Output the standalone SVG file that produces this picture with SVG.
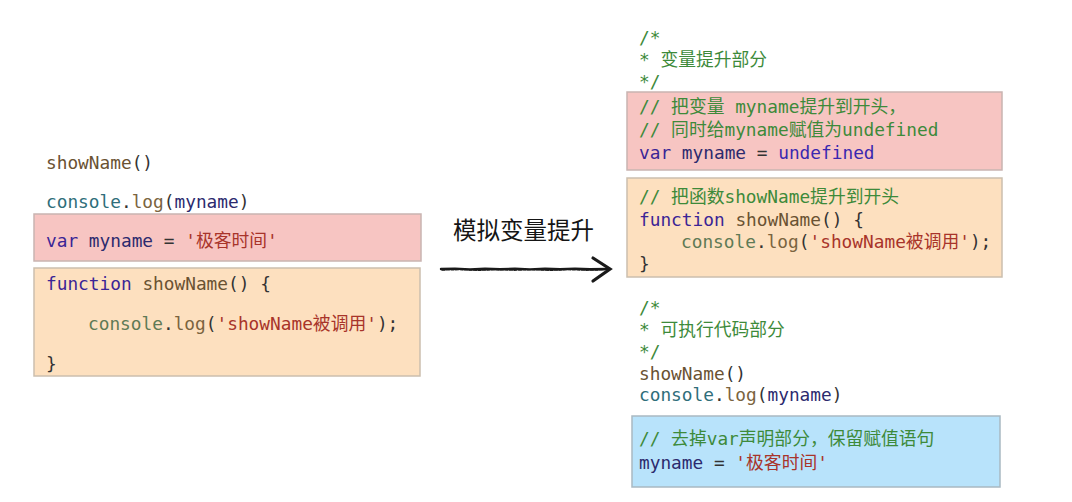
<svg xmlns="http://www.w3.org/2000/svg" width="1072" height="502" viewBox="0 0 1072 502">
<style>
.code{font-family:"DejaVu Sans Mono","Noto Sans CJK SC",monospace;font-size:17.8px;fill:#333;white-space:pre}
.kw{fill:#3b2596}
.id{fill:#2c2a6e}
.fn{fill:#6a5232}
.con{fill:#2f6e7a}
.con2{fill:#5f7a55}
.log{fill:#7a6440}
.str{fill:#a8342a}
.cm{fill:#3d8a3a}
.und{fill:#3a28b0}
.red{fill:#f7c5c2;stroke:#c9b4b1;stroke-width:1.5}
.org{fill:#fde0bf;stroke:#cbbfae;stroke-width:1.5}
.blu{fill:#b8e3fb;stroke:#a9b9c2;stroke-width:1.5}
.lbl{font-family:"Noto Sans CJK SC",sans-serif;font-size:23.5px;fill:#151515}
.arr{fill:none;stroke:#1a1a1a;stroke-linecap:round}
</style>
<rect width="1072" height="502" fill="#ffffff"/>

<g id="left-call">
<text class="code" x="46" y="169"><tspan class="fn">showName</tspan>()</text>
<text class="code" x="46" y="208"><tspan class="con">console</tspan>.<tspan class="log">log</tspan>(<tspan class="id">myname</tspan>)</text>
</g>

<g id="left-var">
<rect class="red" x="34" y="214" width="387" height="47"/>
<text class="code" x="46" y="247"><tspan class="kw">var</tspan> <tspan class="id">myname</tspan> = <tspan class="str">'极客时间'</tspan></text>
</g>

<g id="left-function">
<rect class="org" x="34" y="268" width="386" height="108"/>
<text class="code" x="46" y="290"><tspan class="kw">function</tspan> <tspan class="fn">showName</tspan>() {</text>
<text class="code" x="88" y="330"><tspan class="con2">console</tspan>.<tspan class="log">log</tspan>(<tspan class="str">'showName被调用'</tspan>);</text>
<text class="code" x="46" y="370">}</text>
</g>

<g id="label">
<text class="lbl" x="453" y="239">模拟变量提升</text>
</g>

<g id="connectors">
<path class="arr" d="M441,269 L455,268.6 L470,269.4 L485,268.7 L500,269.3 L515,268.6 L530,269.4 L545,268.7 L560,269.3 L575,268.6 L590,269.3 L608,269" stroke-width="2.4"/>
<path class="arr" d="M442,270 L460,269.6 L478,270.3 L496,269.6 L514,270.2 L532,269.6 L550,270.3 L568,269.6 L586,270.2 L604,269.8" stroke-width="1.4" stroke-dasharray="3 1.5"/>
<path class="arr" d="M593,258 L610,269 L593,281" stroke-width="3.2" stroke-linejoin="miter"/>
</g>

<g id="right-hoist-comment">
<text class="code cm" x="639" y="44">/*</text>
<text class="code cm" x="639" y="66">* 变量提升部分</text>
<text class="code cm" x="639" y="88">*/</text>
</g>

<g id="right-var">
<rect class="red" x="627" y="92" width="375" height="78"/>
<text class="code cm" x="639" y="113">// 把变量 myname提升到开头，</text>
<text class="code cm" x="639" y="136">// 同时给myname赋值为undefined</text>
<text class="code" x="639" y="159"><tspan class="kw">var</tspan> <tspan class="id">myname</tspan> = <tspan class="und">undefined</tspan></text>
</g>

<g id="right-function">
<rect class="org" x="627" y="178" width="375" height="99"/>
<text class="code cm" x="639" y="203">// 把函数showName提升到开头</text>
<text class="code" x="639" y="226"><tspan class="kw">function</tspan> <tspan class="fn">showName</tspan>() {</text>
<text class="code" x="681" y="248"><tspan class="con2">console</tspan>.<tspan class="log">log</tspan>(<tspan class="str">'showName被调用'</tspan>);</text>
<text class="code" x="639" y="270">}</text>
</g>

<g id="right-exec">
<text class="code cm" x="639" y="314">/*</text>
<text class="code cm" x="639" y="336">* 可执行代码部分</text>
<text class="code cm" x="639" y="358">*/</text>
<text class="code" x="639" y="380"><tspan class="fn">showName</tspan>()</text>
<text class="code" x="639" y="401"><tspan class="con">console</tspan>.<tspan class="log">log</tspan>(<tspan class="id">myname</tspan>)</text>
</g>

<g id="right-assign">
<rect class="blu" x="632" y="416" width="368" height="71"/>
<text class="code cm" x="639" y="445">// 去掉var声明部分，保留赋值语句</text>
<text class="code" x="639" y="469"><tspan class="id">myname</tspan> = <tspan class="str">'极客时间'</tspan></text>
</g>
</svg>
